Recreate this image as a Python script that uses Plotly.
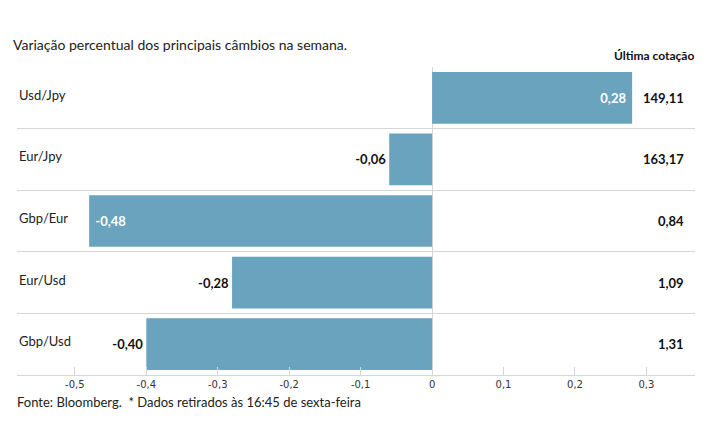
import plotly.graph_objects as go

# dados
pares = ["Usd/Jpy", "Eur/Jpy", "Gbp/Eur", "Eur/Usd", "Gbp/Usd"]
variacao = [0.28, -0.06, -0.48, -0.28, -0.40]
cotacao = ["149,11", "163,17", "0,84", "1,09", "1,31"]
tick_vals = [-0.5, -0.4, -0.3, -0.2, -0.1, 0, 0.1, 0.2, 0.3]
tick_text = ["-0,5", "-0,4", "-0,3", "-0,2", "-0,1", "0", "0,1", "0,2", "0,3"]

FONT = "Lato"
BAR = "#6aa3be"
GRID = "#d6d6d6"

# the page body has an 8px margin, so the figure is a bit smaller
W, H = 707, 437
ML, MR, MT, MB = 9, 20, 59, 70
PW = W - ML - MR
PH = H - MT - MB

rotulos = [f"{v:.2f}".replace(".", ",") for v in variacao]
# rotulo dentro da barra so nas barras compridas
dentro = ["0,28", "-0,48"]
posicao = ["inside" if r in dentro else "outside" for r in rotulos]
# um pouco mais de folga para o texto dentro da barra
rotulos = [("\u00a0" + r + "\u00a0") if r in dentro else r for r in rotulos]

fig = go.Figure()
fig.add_trace(go.Bar(
    x=variacao, y=pares, orientation="h",
    marker=dict(color=BAR, line=dict(width=0)),
    width=0.84,
    text=rotulos, textposition=posicao, insidetextanchor="end",
    outsidetextfont=dict(family=FONT, size=13, color="#111111", weight="bold"),
    insidetextfont=dict(family=FONT, size=13, color="white", weight="bold"),
    cliponaxis=False,
    hoverinfo="skip",
))

# nomes dos pares, alinhados a esquerda
for p in pares:
    fig.add_annotation(x=0, xref="paper", y=p, yref="y", yshift=3, text=p, showarrow=False,
                       xanchor="left", font=dict(family=FONT, size=13, color="#222222"))

# ultima cotacao
for p, c in zip(pares, cotacao):
    fig.add_annotation(x=(678 - ML) / PW, xref="paper", y=p, yref="y", text=c, showarrow=False,
                       xanchor="right", font=dict(family=FONT, size=13, color="#111111", weight="bold"))

fig.add_annotation(x=(688 - ML) / PW, xref="paper", y=1, yref="paper", yanchor="bottom", yshift=2,
                   text="Última cotação", showarrow=False, xanchor="right",
                   font=dict(family=FONT, size=12, color="#111111", weight="bold"))

fig.add_annotation(x=(7 - ML) / PW, xref="paper", y=-27 / PH, yref="paper",
                   text="Fonte: Bloomberg.  * Dados retirados às 16:45 de sexta-feira",
                   showarrow=False, xanchor="left", yanchor="middle",
                   font=dict(family=FONT, size=13, color="#222222"))

fig.update_layout(
    width=W, height=H,
    margin=dict(l=ML, r=MR, t=MT, b=MB),
    plot_bgcolor="white", paper_bgcolor="white",
    showlegend=False,
    title=dict(text="Variação percentual dos principais câmbios na semana.",
               x=5 / W, xanchor="left", y=1 - 37 / H, yanchor="middle",
               font=dict(family=FONT, size=14, color="#222222")),
    font=dict(family=FONT),
)

fig.update_xaxes(
    range=[-0.581, 0.368], tickvals=tick_vals, ticktext=tick_text,
    showgrid=False, zeroline=True, zerolinecolor=GRID, zerolinewidth=1,
    showline=True, linecolor=GRID, linewidth=1,
    ticks="inside", ticklen=8, tickcolor=GRID,
    tickfont=dict(family="DejaVu Sans", size=10, color="#333333"),
    fixedrange=True,
)
fig.update_yaxes(
    autorange="reversed", showticklabels=False, tickson="boundaries",
    showgrid=True, gridcolor=GRID, gridwidth=1, ticks="", showline=False,
    fixedrange=True,
)

fig.write_html("out.html")
